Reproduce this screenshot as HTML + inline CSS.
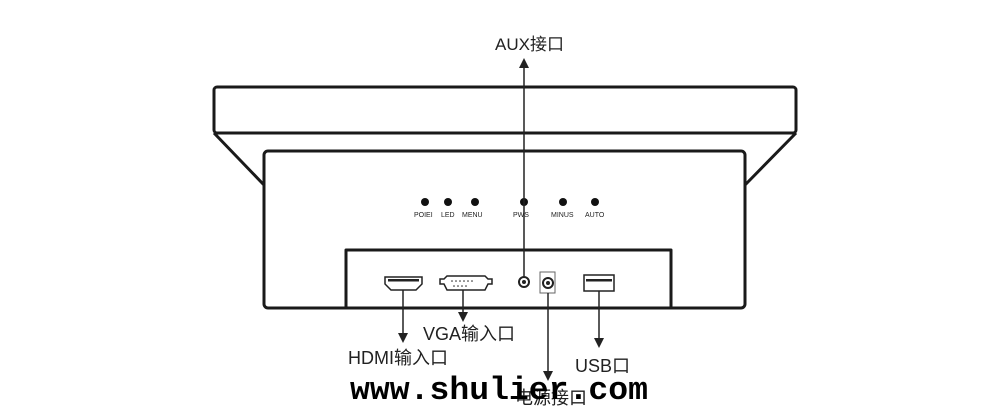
<!DOCTYPE html>
<html><head><meta charset="utf-8"><style>
body{margin:0;background:#fff;width:1000px;height:414px;overflow:hidden}
svg{display:block}
text{font-family:"Liberation Sans","Noto Sans CJK SC",sans-serif;fill:#222}
</style></head><body>
<svg width="1000" height="414" viewBox="0 0 1000 414">
<g fill="none" stroke="#1a1a1a" stroke-width="3" stroke-linejoin="round">
<rect x="214" y="87" width="582" height="46" rx="3"/>
<line x1="214" y1="133" x2="264" y2="185"/>
<line x1="796" y1="133" x2="745" y2="185"/>
<rect x="264" y="151" width="481" height="157" rx="4" fill="#fff"/>
<rect x="346" y="250" width="325" height="58"/>
</g>
<g fill="#111">
<circle cx="425" cy="202" r="4"/><circle cx="448" cy="202" r="4"/><circle cx="475" cy="202" r="4"/>
<circle cx="524" cy="202" r="4"/><circle cx="563" cy="202" r="4"/><circle cx="595" cy="202" r="4"/>
</g>
<g font-size="7" fill="#333">
<text x="414" y="217">POIEI</text><text x="441" y="217">LED</text><text x="462" y="217">MENU</text>
<text x="513" y="217">PWS</text><text x="551" y="217">MINUS</text><text x="585" y="217">AUTO</text>
</g>
<path d="M385 277h37v7l-6 6h-25l-6-6z" fill="none" stroke="#222" stroke-width="1.5"/>
<rect x="388" y="279" width="31" height="2.5" fill="#222"/>
<path d="M447 276h38l3 3h4v5h-4l-3 6h-38l-3-6h-4v-5h4z" fill="none" stroke="#222" stroke-width="1.5"/>
<g fill="#222"><circle cx="452" cy="281" r=".8"/><circle cx="456" cy="281" r=".8"/><circle cx="460" cy="281" r=".8"/><circle cx="464" cy="281" r=".8"/><circle cx="468" cy="281" r=".8"/><circle cx="472" cy="281" r=".8"/>
<circle cx="454" cy="286" r=".8"/><circle cx="458" cy="286" r=".8"/><circle cx="462" cy="286" r=".8"/><circle cx="466" cy="286" r=".8"/></g>
<circle cx="524" cy="282" r="5" fill="none" stroke="#222" stroke-width="2"/><circle cx="524" cy="282" r="2" fill="#222"/>
<rect x="540" y="272" width="15" height="21" fill="none" stroke="#666" stroke-width="1"/>
<circle cx="548" cy="283" r="5" fill="none" stroke="#222" stroke-width="2"/><circle cx="548" cy="283" r="2" fill="#222"/>
<rect x="584" y="275" width="30" height="16" fill="none" stroke="#222" stroke-width="1.5"/>
<rect x="586" y="279" width="26" height="2.5" fill="#222"/>
<g stroke="#222" stroke-width="1.5">
<line x1="524" y1="64" x2="524" y2="276"/>
<line x1="403" y1="290" x2="403" y2="334"/>
<line x1="463" y1="290" x2="463" y2="313"/>
<line x1="548" y1="293" x2="548" y2="372"/>
<line x1="599" y1="291" x2="599" y2="339"/>
</g>
<g fill="#222">
<path d="M519 68l5-10 5 10z"/>
<path d="M398 333l5 10 5-10z"/>
<path d="M458 312l5 10 5-10z"/>
<path d="M543 371l5 10 5-10z"/>
<path d="M594 338l5 10 5-10z"/>
</g>
<text x="495" y="50" font-size="17">AUX接口</text>
<text x="423" y="340" font-size="18">VGA输入口</text>
<text x="348" y="364" font-size="18">HDMI输入口</text>
<text x="575" y="372" font-size="18">USB口</text>
<text x="515" y="404" font-size="18">电源接口</text>
<text x="350" y="399" font-size="32" font-weight="bold" textLength="298" lengthAdjust="spacingAndGlyphs" style="font-family:'Liberation Mono',monospace;fill:#000">www.shulier.com</text>
</svg>
</body></html>
